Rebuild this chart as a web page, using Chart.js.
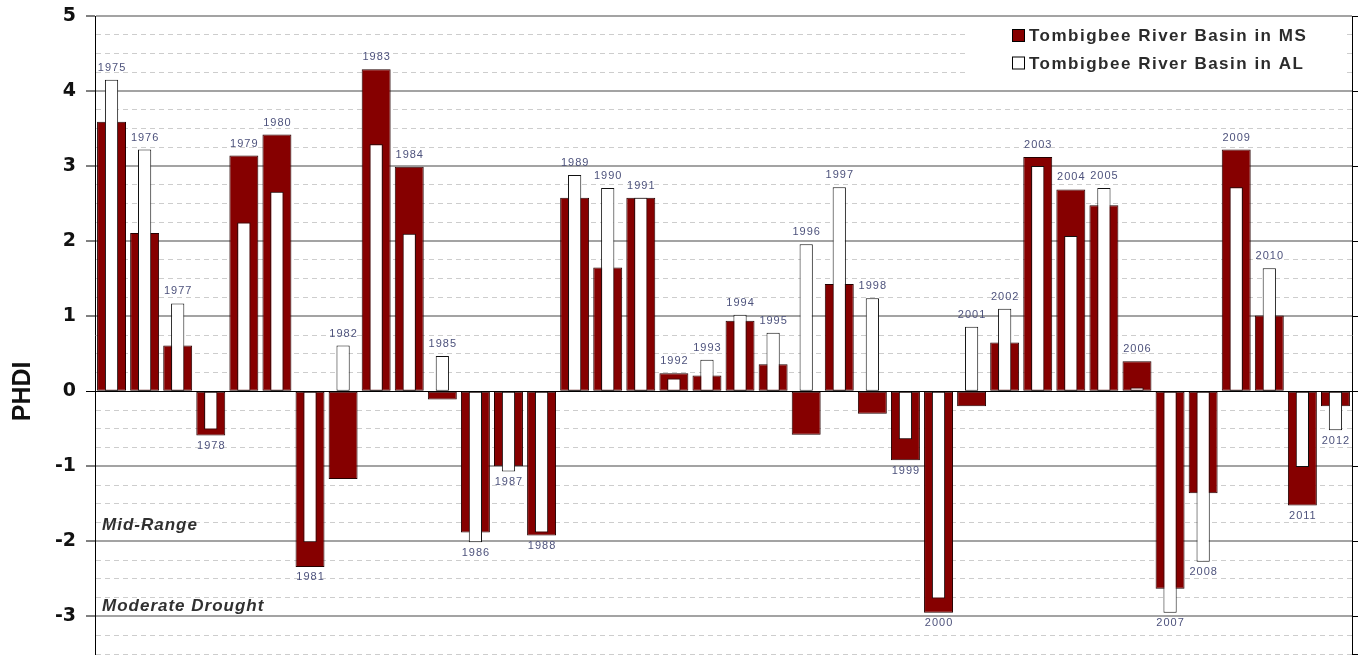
<!DOCTYPE html>
<html><head><meta charset="utf-8">
<script src="https://cdn.jsdelivr.net/npm/chart.js@4.4.0/dist/chart.umd.min.js"></script>
<style>html,body{margin:0;padding:0;background:#fff;overflow:hidden}</style>
</head><body>
<canvas id="c" width="1358" height="655"></canvas>
<script>
const years = ['1975','1976','1977','1978','1979','1980','1981','1982','1983','1984','1985','1986','1987','1988','1989','1990','1991','1992','1993','1994','1995','1996','1997','1998','1999','2000','2001','2002','2003','2004','2005','2006','2007','2008','2009','2010','2011','2012'];
const msValues = [3.59,2.11,0.61,-0.59,3.14,3.42,-2.34,-1.17,4.29,2.99,-0.11,-1.88,-1.00,-1.92,2.58,1.65,2.58,0.24,0.21,0.94,0.36,-0.58,1.43,-0.30,-0.92,-2.95,-0.20,0.65,3.12,2.69,2.48,0.40,-2.63,-1.36,3.22,1.01,-1.52,-0.20];
const alValues = [4.15,3.22,1.17,-0.51,2.25,2.66,-2.01,0.61,3.29,2.10,0.47,-2.01,-1.07,-1.88,2.88,2.71,2.58,0.17,0.42,1.02,0.78,1.96,2.72,1.24,-0.64,-2.76,0.86,1.10,3.00,2.07,2.71,0.05,-2.95,-2.27,2.72,1.64,-1.01,-0.52];
const seriesNames = ['Tombigbee River Basin in MS','Tombigbee River Basin in AL'];
const axisTitle = 'PHDI';
const rangeNotes = ['Mid-Range','Moderate Drought'];
const rangeNoteValues = [-1.85,-2.93];
const yMin = -3.5, yMax = 5;

const RED = '#860000';

const isInt = v => Math.abs(v - Math.round(v)) < 1e-9;

const overlayPlugin = {
  id: 'overlay',
  beforeDatasetsDraw(chart) {
    const ctx = chart.ctx, a = chart.chartArea;
    ctx.save();
    ctx.fillStyle = '#fff';
    ctx.fillRect(965, a.top + 1.5, a.right - 6 - 965, 72);
    ctx.restore();
  },
  afterDatasetsDraw(chart) {
    const ctx = chart.ctx, a = chart.chartArea, ys = chart.scales.y;
    const m0 = chart.getDatasetMeta(0), m1 = chart.getDatasetMeta(1);
    ctx.save();
    // year labels
    ctx.font = '11px "Liberation Sans", Arial, sans-serif';
    ctx.letterSpacing = '1px';
    ctx.fillStyle = '#4d527c';
    ctx.textAlign = 'center';
    years.forEach((yr, i) => {
      const e0 = m0.data[i], e1 = m1.data[i];
      const x = e0.x + 0.5;
      const mx = Math.max(msValues[i], alValues[i]);
      if (mx > 0) {
        const top = Math.min(e0.y, e1.y);
        ctx.textBaseline = 'alphabetic';
        ctx.fillText(yr, x, top - 9);
      } else {
        const bot = Math.max(e0.y, e1.y);
        ctx.textBaseline = 'top';
        ctx.fillText(yr, x, bot + 5);
      }
    });
    // range notes
    ctx.font = 'italic bold 17px "Liberation Sans", Arial, sans-serif';
    ctx.letterSpacing = '1px';
    ctx.fillStyle = '#303030';
    ctx.textAlign = 'left';
    ctx.textBaseline = 'alphabetic';
    rangeNotes.forEach((t, i) => ctx.fillText(t, a.left + 7, ys.getPixelForValue(rangeNoteValues[i])));
    // legend
    ctx.font = 'bold 17px "Liberation Sans", Arial, sans-serif';
    ctx.letterSpacing = '1.5px';
    ctx.textBaseline = 'middle';
    const fills = [RED, '#ffffff'];
    seriesNames.forEach((n, i) => {
      const cy = 35.5 + i * 27.5;
      ctx.fillStyle = fills[i];
      ctx.fillRect(1012, cy - 6.5, 13, 13);
      ctx.strokeStyle = '#000';
      ctx.lineWidth = 1;
      ctx.strokeRect(1012.5, cy - 6, 12, 12);
      ctx.fillStyle = '#2b2b2b';
      ctx.fillText(n, 1029, cy + 1);
    });
    // axis title
    ctx.letterSpacing = '0px';
    ctx.font = 'bold 25px "Liberation Sans", Arial, sans-serif';
    ctx.fillStyle = '#111';
    ctx.translate(23, ys.getPixelForValue(0));
    ctx.rotate(-Math.PI / 2);
    ctx.textAlign = 'center';
    ctx.textBaseline = 'middle';
    ctx.fillText(axisTitle, 0, 0);
    ctx.restore();
  }
};

new Chart(document.getElementById('c'), {
  type: 'bar',
  data: {
    labels: years,
    datasets: [
      { label: seriesNames[0], data: msValues, backgroundColor: RED, borderColor: '#240000', borderWidth: 1, borderSkipped: false, grouped: false, barPercentage: 0.875, categoryPercentage: 1, order: 2 },
      { label: seriesNames[1], data: alValues, backgroundColor: '#ffffff', borderColor: '#111', borderWidth: 1, borderSkipped: false, grouped: false, barPercentage: 0.40, categoryPercentage: 1, order: 1 }
    ]
  },
  options: {
    responsive: false,
    animation: false,
    devicePixelRatio: 1,
    layout: { padding: { top: 16, bottom: 1, left: 0, right: 0 } },
    plugins: { legend: { display: false }, tooltip: { enabled: false } },
    scales: {
      x: { type: 'category', display: false, offset: true },
      y: {
        position: 'left', min: yMin, max: yMax,
        afterFit: s => { s.width = 95; s.paddingTop = 0; s.paddingBottom = 0; },
        ticks: {
          stepSize: 0.25, autoSkip: false, maxTicksLimit: 100, padding: 10,
          callback: v => isInt(v) ? String(Math.round(v)) : '',
          font: { family: '"DejaVu Sans", sans-serif', weight: 'bold', size: 19 },
          color: '#111'
        },
        grid: {
          color: c => { const v = c.tick ? c.tick.value : 1; return v === 0 ? '#000' : (isInt(v) ? '#a3a3a3' : '#cdcdcd'); },
          lineWidth: c => { const v = c.tick ? c.tick.value : 1; return v === 0 ? 1 : (isInt(v) ? 2 : 1); },
          tickLength: 9,
          tickColor: c => { const v = c.tick ? c.tick.value : 1; return isInt(v) ? '#000' : 'rgba(0,0,0,0)'; },
          tickWidth: 1
        },
        border: {
          display: true, color: '#000', width: 1,
          dash: c => { const v = c.tick ? c.tick.value : 1; return isInt(v) ? [] : [5, 4]; }
        }
      },
      y2: {
        position: 'right', min: yMin, max: yMax,
        afterFit: s => { s.width = 6; s.paddingTop = 0; s.paddingBottom = 0; },
        ticks: { stepSize: 1, display: false },
        grid: { drawOnChartArea: false, tickLength: 6, tickColor: '#000' },
        border: { display: true, color: '#000', width: 1 }
      }
    }
  },
  plugins: [overlayPlugin]
});
</script>
</body></html>
